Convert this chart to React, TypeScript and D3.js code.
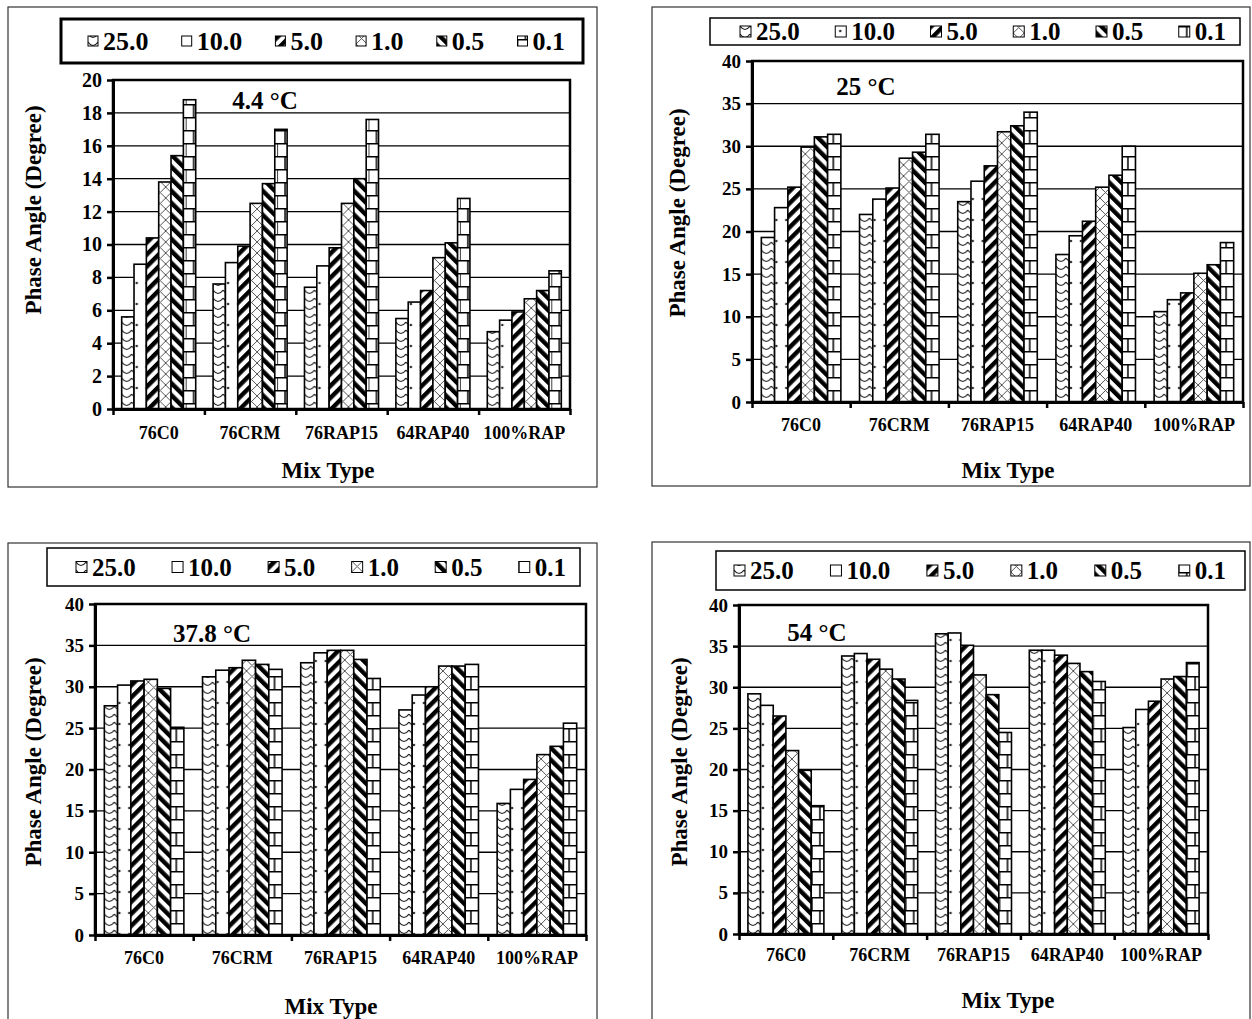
import React, { useRef, useEffect } from 'react';
import * as d3 from 'd3';

// categories and series
const mixTypes = ['76C0', '76CRM', '76RAP15', '64RAP40', '100%RAP'];
const frequencies = ['25.0', '10.0', '5.0', '1.0', '0.5', '0.1'];
const temperatures = ['4.4 °C', '25 °C', '37.8 °C', '54 °C'];

// phase angle (degree): one row per mix type, one value per frequency
const phaseAt4_4 = [
  [5.6, 8.8, 10.4, 13.8, 15.4, 18.8],
  [7.6, 8.9, 9.9, 12.5, 13.7, 17.0],
  [7.4, 8.7, 9.8, 12.5, 14.0, 17.6],
  [5.5, 6.5, 7.2, 9.2, 10.1, 12.8],
  [4.7, 5.4, 5.9, 6.7, 7.2, 8.4],
];
const phaseAt25 = [
  [19.3, 22.8, 25.2, 29.9, 31.1, 31.4],
  [22.0, 23.8, 25.1, 28.6, 29.3, 31.4],
  [23.5, 25.9, 27.7, 31.7, 32.4, 34.0],
  [17.3, 19.5, 21.2, 25.2, 26.6, 30.0],
  [10.6, 12.0, 12.8, 15.1, 16.1, 18.7],
];
const phaseAt37_8 = [
  [27.7, 30.2, 30.7, 30.9, 29.8, 25.1],
  [31.2, 32.0, 32.3, 33.2, 32.7, 32.1],
  [32.9, 34.1, 34.4, 34.4, 33.3, 31.0],
  [27.2, 29.0, 30.0, 32.5, 32.5, 32.7],
  [15.9, 17.6, 18.8, 21.8, 22.8, 25.6],
];
const phaseAt54 = [
  [29.2, 27.8, 26.5, 22.3, 19.9, 15.6],
  [33.8, 34.1, 33.4, 32.2, 31.0, 28.4],
  [36.5, 36.6, 35.1, 31.5, 29.1, 24.5],
  [34.5, 34.5, 33.9, 32.9, 31.9, 30.7],
  [25.1, 27.3, 28.3, 31.0, 31.3, 33.0],
];

// axis ticks
const ticksTo20 = [0, 2, 4, 6, 8, 10, 12, 14, 16, 18, 20];
const ticksTo40 = [0, 5, 10, 15, 20, 25, 30, 35, 40];

const FONT = "'Times New Roman', 'Liberation Serif', serif";

// layout of each of the four chart panels
const panels = [
  {
    data: phaseAt4_4, temp: temperatures[0], ticks: ticksTo20,
    frame: { x: 8, y: 7, w: 589, h: 480 },
    legend: { x: 61, y: 19, w: 522, h: 44, sw: 3, from: 88, to: 565, font: 26, box: 10 },
    plot: { l: 113, r: 570, t: 80, b: 409 }, tickFont: 20, catY: 433,
    title: { x: 265, y: 100 }, yTitle: { x: 33, y: 210 }, xTitle: { x: 328, y: 470 },
  },
  {
    data: phaseAt25, temp: temperatures[1], ticks: ticksTo40,
    frame: { x: 652, y: 7, w: 598, h: 479 },
    legend: { x: 710, y: 18, w: 530, h: 27, sw: 1.5, from: 740, to: 1226, font: 25, box: 11 },
    plot: { l: 752, r: 1243, t: 61, b: 402 }, tickFont: 19, catY: 425,
    title: { x: 866, y: 86 }, yTitle: { x: 677, y: 213 }, xTitle: { x: 1008, y: 470 },
  },
  {
    data: phaseAt37_8, temp: temperatures[2], ticks: ticksTo40,
    frame: { x: 8, y: 543, w: 589, h: 490 },
    legend: { x: 47, y: 548, w: 533, h: 38, sw: 1.5, from: 76, to: 566, font: 25, box: 11 },
    plot: { l: 95, r: 586, t: 604, b: 935 }, tickFont: 19, catY: 958,
    title: { x: 212, y: 633 }, yTitle: { x: 33, y: 762 }, xTitle: { x: 331, y: 1006 },
  },
  {
    data: phaseAt54, temp: temperatures[3], ticks: ticksTo40,
    frame: { x: 652, y: 542, w: 598, h: 490 },
    legend: { x: 716, y: 551, w: 529, h: 39, sw: 1.5, from: 734, to: 1226, font: 25, box: 11 },
    plot: { l: 739, r: 1208, t: 605, b: 934 }, tickFont: 19, catY: 955,
    title: { x: 817, y: 632 }, yTitle: { x: 679, y: 762 }, xTitle: { x: 1008, y: 1000 },
  },
];

function addPatterns(defs) {
  const mk = (id, w, h, transform?) => {
    const p = defs.append('pattern')
      .attr('id', id)
      .attr('patternUnits', 'userSpaceOnUse')
      .attr('width', w)
      .attr('height', h);
    if (transform) p.attr('patternTransform', transform);
    p.append('rect').attr('width', w).attr('height', h).attr('fill', 'white');
    return p;
  };
  // 25.0 -> small scallops
  mk('pat-0', 10, 8).append('path')
    .attr('d', 'M0,2 Q5,9 10,2')
    .attr('fill', 'none').attr('stroke', '#222').attr('stroke-width', 1.2);
  // 10.0 -> sparse dots
  mk('pat-1', 10, 21).append('circle')
    .attr('cx', 5).attr('cy', 10).attr('r', 1.3).attr('fill', '#333');
  // 5.0 -> wide upward diagonal
  mk('pat-2', 8.5, 8.5, 'rotate(45)').append('rect')
    .attr('width', 4.4).attr('height', 8.5).attr('fill', 'black');
  // 1.0 -> thin diagonal cross
  mk('pat-3', 11, 11).append('path')
    .attr('d', 'M0,0 L11,11 M11,0 L0,11')
    .attr('stroke', '#555').attr('stroke-width', 1);
  // 0.5 -> wide downward diagonal
  mk('pat-4', 8.5, 8.5, 'rotate(-45)').append('rect')
    .attr('width', 4.4).attr('height', 8.5).attr('fill', 'black');
  // 0.1 -> horizontal brick
  mk('pat-5', 16, 26).append('path')
    .attr('d', 'M0,0.75 H16 M0,13.75 H16 M8,0 V13 M0,13 V26')
    .attr('stroke', 'black').attr('stroke-width', 1.5);
}

function drawPanel(svg, p) {
  const g = svg.append('g');
  const { l, r, t, b } = p.plot;
  const yMax = p.ticks[p.ticks.length - 1];

  g.append('rect')
    .attr('x', p.frame.x).attr('y', p.frame.y)
    .attr('width', p.frame.w).attr('height', p.frame.h)
    .attr('fill', 'white').attr('stroke', '#333').attr('stroke-width', 1.2);

  const x0 = d3.scaleBand().domain(mixTypes).range([l, r]).paddingInner(0.19).paddingOuter(0.095);
  const x1 = d3.scaleBand().domain(frequencies).range([0, x0.bandwidth()]);
  const y = d3.scaleLinear().domain([0, yMax]).range([b, t]);

  // gridlines
  g.append('g').selectAll('line')
    .data(p.ticks.filter(v => v > 0 && v < yMax))
    .enter().append('line')
    .attr('x1', l).attr('x2', r)
    .attr('y1', d => y(d)).attr('y2', d => y(d))
    .attr('stroke', 'black').attr('stroke-width', 1.3);

  // bars
  const groups = g.append('g').selectAll('g')
    .data(p.data)
    .enter().append('g')
    .attr('transform', (d, i) => `translate(${x0(mixTypes[i])},0)`);
  groups.selectAll('rect')
    .data(d => d)
    .enter().append('rect')
    .attr('x', (d, j) => x1(frequencies[j]))
    .attr('y', d => y(d))
    .attr('width', x1.bandwidth())
    .attr('height', d => y(0) - y(d))
    .attr('fill', (d, j) => `url(#pat-${j})`)
    .attr('stroke', 'black').attr('stroke-width', 1.6);

  // plot border
  g.append('rect')
    .attr('x', l).attr('y', t).attr('width', r - l).attr('height', b - t)
    .attr('fill', 'none').attr('stroke', 'black').attr('stroke-width', 2.5);

  // y axis
  const yAxis = g.append('g')
    .attr('transform', `translate(${l},0)`)
    .call(d3.axisLeft(y).tickValues(p.ticks).tickSize(6).tickSizeOuter(0).tickPadding(5));
  yAxis.select('.domain').attr('stroke-width', 3);
  yAxis.selectAll('line').attr('stroke-width', 2.5);
  yAxis.selectAll('text')
    .attr('font-family', FONT).attr('font-weight', 'bold').attr('font-size', p.tickFont)
    .attr('fill', 'black');

  // x axis: tick marks between categories
  const xb = d3.scaleLinear().domain([0, mixTypes.length]).range([l, r]);
  const xAxis = g.append('g')
    .attr('transform', `translate(0,${b})`)
    .call(d3.axisBottom(xb).tickValues(d3.range(mixTypes.length + 1)).tickFormat(() => '').tickSize(6).tickSizeOuter(0));
  xAxis.select('.domain').attr('stroke-width', 3);
  xAxis.selectAll('line').attr('stroke-width', 2.5);

  g.append('g').selectAll('text')
    .data(mixTypes)
    .enter().append('text')
    .attr('x', d => x0(d) + x0.bandwidth() / 2)
    .attr('y', p.catY)
    .attr('dy', '0.35em')
    .attr('text-anchor', 'middle')
    .attr('font-family', FONT).attr('font-weight', 'bold').attr('font-size', 18)
    .text(d => d);

  // temperature label
  g.append('text')
    .attr('x', p.title.x).attr('y', p.title.y).attr('dy', '0.35em')
    .attr('text-anchor', 'middle')
    .attr('font-family', FONT).attr('font-weight', 'bold').attr('font-size', 25)
    .text(p.temp);

  // axis titles
  g.append('text')
    .attr('transform', `translate(${p.yTitle.x},${p.yTitle.y}) rotate(-90)`)
    .attr('dy', '0.35em')
    .attr('text-anchor', 'middle')
    .attr('font-family', FONT).attr('font-weight', 'bold').attr('font-size', 23)
    .text('Phase Angle (Degree)');
  g.append('text')
    .attr('x', p.xTitle.x).attr('y', p.xTitle.y).attr('dy', '0.35em')
    .attr('text-anchor', 'middle')
    .attr('font-family', FONT).attr('font-weight', 'bold').attr('font-size', 23)
    .text('Mix Type');

  // legend
  const lg = p.legend;
  g.append('rect')
    .attr('x', lg.x).attr('y', lg.y).attr('width', lg.w).attr('height', lg.h)
    .attr('fill', 'white').attr('stroke', 'black').attr('stroke-width', lg.sw);
  const cy = lg.y + lg.h / 2;
  const items = g.append('g').selectAll('g')
    .data(frequencies)
    .enter().append('g');
  items.append('rect')
    .attr('x', 0).attr('y', cy - lg.box / 2)
    .attr('width', lg.box).attr('height', lg.box)
    .attr('fill', (d, j) => `url(#pat-${j})`)
    .attr('stroke', 'black').attr('stroke-width', 1);
  const labels = items.append('text')
    .attr('x', lg.box + 5).attr('y', cy).attr('dy', '0.35em')
    .attr('font-family', FONT).attr('font-weight', 'bold').attr('font-size', lg.font)
    .text(d => d);
  const widths = labels.nodes().map(n => lg.box + 5 + n.getComputedTextLength());
  const gap = (lg.to - lg.from - d3.sum(widths)) / (frequencies.length - 1);
  let cursor = lg.from;
  const starts = widths.map(w => { const s = cursor; cursor += w + gap; return s; });
  items.attr('transform', (d, j) => `translate(${starts[j]},0)`);
}

const App = () => {
  const svgRef = useRef(null);

  useEffect(() => {
    const svg = d3.select(svgRef.current);
    svg.selectAll('*').remove();
    addPatterns(svg.append('defs'));
    panels.forEach(p => drawPanel(svg, p));
  }, []);

  return (
    <svg
      ref={svgRef}
      width={1252}
      height={1019}
      style={{ position: 'absolute', left: 0, top: 0, background: 'white' }}
    />
  );
};

export default App;
